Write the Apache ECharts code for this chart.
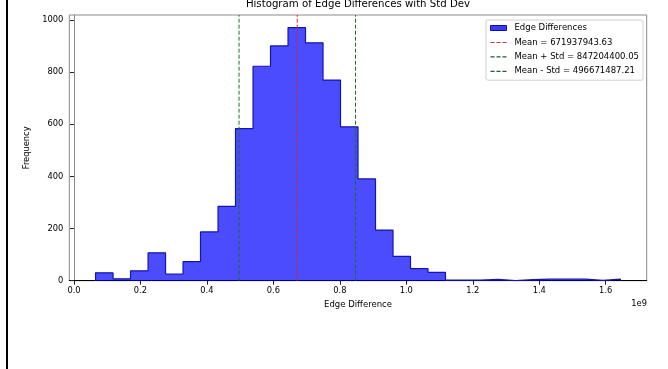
<!DOCTYPE html>
<html>
<head>
<meta charset="utf-8">
<script src="https://cdn.jsdelivr.net/npm/echarts@6/dist/echarts.min.js"></script>
<style>html,body{margin:0;padding:0;background:#fff;}#c{width:668px;height:369px;}</style>
</head>
<body>
<div id="c"></div>
<script>
// values in units of 1e9
var binEdges = [0.0649, 0.1176, 0.1702, 0.2229, 0.2755, 0.3282, 0.3808, 0.4335, 0.4861, 0.5388,
  0.5914, 0.6441, 0.6967, 0.7494, 0.8020, 0.8547, 0.9073, 0.9600, 1.0126, 1.0653,
  1.1179, 1.1706, 1.2232, 1.2759, 1.3285, 1.3812, 1.4338, 1.4865, 1.5391, 1.5918, 1.6444];
var counts = [30, 7, 38, 107, 25, 73, 187, 285, 583, 822,
  900, 970, 912, 769, 590, 390, 194, 93, 46, 32,
  2, 2, 5, 0, 4, 6, 6, 6, 1, 6];
var meanVal = 0.67193794363;
var plusStd = 0.84720440005;
var minusStd = 0.49667148721;
var xTickValues = [0, 0.2, 0.4, 0.6, 0.8, 1.0, 1.2, 1.4, 1.6];
var xTickLabels = ['0.0', '0.2', '0.4', '0.6', '0.8', '1.0', '1.2', '1.4', '1.6'];
var yTickValues = [0, 200, 400, 600, 800, 1000];
var yTickLabels = ['0', '200', '400', '600', '800', '1000'];
var legendNames = ['Edge Differences', 'Mean = 671937943.63', 'Mean + Std = 847204400.05', 'Mean - Std = 496671487.21'];

var FONT = 'DejaVu Sans';
var range = binEdges[binEdges.length - 1] - binEdges[0];
var xMin = binEdges[0] - 0.05 * range;
var xMax = binEdges[binEdges.length - 1] + 0.05 * range;
var yMax = 1.05 * Math.max.apply(null, counts);

var stepPts = [[binEdges[0], 0]];
for (var i = 0; i < counts.length; i++) {
  stepPts.push([binEdges[i], counts[i]]);
  stepPts.push([binEdges[i + 1], counts[i]]);
}
stepPts.push([binEdges[binEdges.length - 1], 0]);

function vline(name, x, color) {
  return {
    name: name, type: 'line', data: [[x, 0], [x, yMax]], symbol: 'none',
    lineStyle: { color: color, width: 1, type: [4, 2] },
    itemStyle: { color: color }, z: 5, silent: true
  };
}
var dashIcon = 'path://M0,0M0,2h4v1.2h-4zM6,2h4v1.2h-4zM12,2h4v1.2h-4zM16,5';

var chart = echarts.init(document.getElementById('c'), null, { renderer: 'canvas' });
chart.setOption({
  animation: false,
  backgroundColor: '#fff',
  grid: { left: 69.3, top: 15, right: 21.3, bottom: 88.3, show: true, borderColor: '#8a8a8a', borderWidth: 1, backgroundColor: 'transparent', containLabel: false },
  xAxis: {
    type: 'value', min: xMin, max: xMax,
    name: 'Edge Difference', nameLocation: 'middle', nameGap: 20,
    nameTextStyle: { fontFamily: FONT, fontSize: 8.5, color: '#000' },
    axisLine: { show: true, onZero: false, lineStyle: { color: '#000', width: 1 } },
    axisTick: { show: true, length: 4, customValues: xTickValues, lineStyle: { color: '#222' } },
    axisLabel: { customValues: xTickValues, margin: 6, fontFamily: FONT, fontSize: 8.3, color: '#000',
      formatter: function (v) { var k = xTickValues.indexOf(v); return k >= 0 ? xTickLabels[k] : ''; } },
    splitLine: { show: false }
  },
  yAxis: {
    type: 'value', min: 0, max: yMax,
    name: 'Frequency', nameLocation: 'middle', nameGap: 26, nameRotate: 90,
    nameTextStyle: { fontFamily: FONT, fontSize: 8.3, color: '#000' },
    axisLine: { show: true, lineStyle: { color: '#8a8a8a', width: 1 } },
    axisTick: { show: true, length: 4, customValues: yTickValues, lineStyle: { color: '#222' } },
    axisLabel: { customValues: yTickValues, margin: 6, fontFamily: FONT, fontSize: 8.3, color: '#000',
      formatter: function (v) { var k = yTickValues.indexOf(v); return k >= 0 ? yTickLabels[k] : ''; } },
    splitLine: { show: false }
  },
  legend: {
    orient: 'vertical', left: 486, top: 20,
    padding: [3, 4, 4, 4], itemGap: 4.4, itemWidth: 16, itemHeight: 5,
    backgroundColor: '#fff', borderColor: '#d0d0d0', borderWidth: 1, borderRadius: 2,
    textStyle: { fontFamily: FONT, fontSize: 8.5, color: '#000', lineHeight: 10, padding: [0, 0, 0, 3] },
    selectedMode: false,
    data: [
      { name: legendNames[0], icon: 'rect', itemStyle: { color: '#3b3bff', borderColor: '#1010a8', borderWidth: 1 } },
      { name: legendNames[1], icon: dashIcon, itemStyle: { color: '#c23a3a', borderWidth: 0 } },
      { name: legendNames[2], icon: dashIcon, itemStyle: { color: '#1e5b30', borderWidth: 0 } },
      { name: legendNames[3], icon: dashIcon, itemStyle: { color: '#1e5b30', borderWidth: 0 } }
    ]
  },
  series: [
    {
      name: legendNames[0], type: 'line', data: stepPts, symbol: 'none',
      lineStyle: { color: '#1414b0', width: 1.2 },
      itemStyle: { color: '#3b3bff' },
      areaStyle: { color: 'rgba(0,0,255,0.7)', opacity: 1 },
      z: 3, silent: true
    },
    vline(legendNames[1], meanVal, '#cc2a2a'),
    vline(legendNames[2], plusStd, '#1e6b32'),
    vline(legendNames[3], minusStd, '#1e6b32')
  ],
  graphic: [
    { type: 'rect', shape: { x: 6, y: 0, width: 2, height: 369 }, style: { fill: '#000' } },
    { type: 'text', x: 358, y: 4, style: { text: 'Histogram of Edge Differences with Std Dev', fontFamily: FONT, fontSize: 10.2, fill: '#000', textAlign: 'center', textVerticalAlign: 'middle' } },
    { type: 'text', x: 647, y: 304, style: { text: '1e9', fontFamily: FONT, fontSize: 8.3, fill: '#000', textAlign: 'right', textVerticalAlign: 'middle' } }
  ]
});
</script>
</body>
</html>
